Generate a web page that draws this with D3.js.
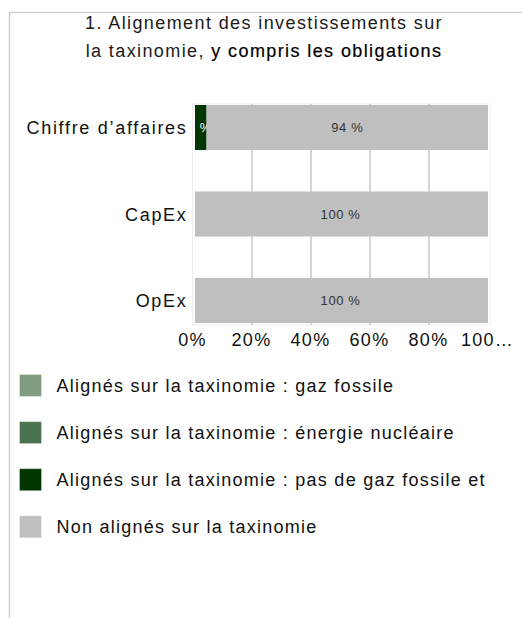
<!DOCTYPE html>
<html>
<head>
<meta charset="utf-8">
<script src="https://cdn.jsdelivr.net/npm/d3@7"></script>
<style>
  body { margin: 0; background: #fff; }
  svg { display: block; font-family: "Liberation Sans", Arial, sans-serif; }
</style>
</head>
<body>
<div id="chart"></div>
<script>
// data
var categories = ["Chiffre d\u2019affaires", "CapEx", "OpEx"];
var seriesNames = [
  "Alignés sur la taxinomie : gaz fossile",
  "Alignés sur la taxinomie : énergie nucléaire",
  "Alignés sur la taxinomie : pas de gaz fossile et",
  "Non alignés sur la taxinomie"
];
var seriesColors = ["#7f9c80", "#4b7350", "#023502", "#bfbfbf"];
var gasValues = [0, 0, 0];
var nuclearValues = [0, 0, 0];
var greenValues = [4.6, 0, 0];
var notAlignedValues = [95.4, 100, 100];
var greenLabels = ["5 %", "", ""];
var notAlignedLabels = ["94 %", "100 %", "100 %"];
var tickValues = [0, 20, 40, 60, 80, 100];
var tickLabels = ["0%", "20%", "40%", "60%", "80%", "100\u2026"];

var W = 522, H = 618;
var svg = d3.select("#chart").append("svg").attr("width", W).attr("height", H);

// outer frame (only top and left edges visible)
svg.append("path")
  .attr("d", "M9.5,618V12.5H522")
  .attr("fill", "none")
  .attr("stroke", "#cfcfcf")
  .attr("stroke-width", 1.5);

// title
var title = svg.append("text")
  .attr("text-anchor", "middle")
  .style("font-size", "18px")
  .style("letter-spacing", "1.4px")
  .attr("fill", "#1a1a1a");
title.append("tspan").attr("x", 264).attr("y", 29).text("1. Alignement des investissements sur");
var t2 = title.append("tspan").attr("x", 264).attr("y", 57);
t2.append("tspan").text("la taxinomie, ");
t2.append("tspan").attr("fill", "#000").attr("stroke", "#000").attr("stroke-width", 0.2)
  .text("y compris les obligations");

// scales
var x = d3.scaleLinear().domain([0, 100]).range([193, 488]);
var y = d3.scaleBand().domain(categories).range([105, 323]).paddingInner(0.48).paddingOuter(0);

// plot border
svg.append("rect")
  .attr("x", x(0) - 0.5).attr("y", 104)
  .attr("width", x(100) - x(0) + 2.5).attr("height", 221)
  .attr("fill", "none").attr("stroke", "#eeeeee");

// gridlines
svg.append("g").selectAll("line")
  .data(tickValues.slice(1, -1))
  .enter().append("line")
  .attr("x1", function(d) { return x(d); })
  .attr("x2", function(d) { return x(d); })
  .attr("y1", 104).attr("y2", 325)
  .attr("stroke", "#cccccc").attr("stroke-width", 1.6);

// stacked series
var rows = categories.map(function(c, i) {
  return { cat: c, gas: gasValues[i], nuclear: nuclearValues[i], green: greenValues[i], other: notAlignedValues[i] };
});
var keys = ["gas", "nuclear", "green", "other"];
var stacked = d3.stack().keys(keys)(rows);
var labelSets = { green: greenLabels, other: notAlignedLabels };

svg.append("clipPath").attr("id", "plotclip")
  .append("rect").attr("x", x(0) + 2).attr("y", 104).attr("width", x(100) - x(0)).attr("height", 221);

var layers = svg.append("g").attr("clip-path", "url(#plotclip)");

stacked.forEach(function(layer, k) {
  var g = layers.append("g");
  g.selectAll("rect")
    .data(layer)
    .enter().append("rect")
    .attr("x", function(d) { return x(d[0]); })
    .attr("width", function(d) { return x(d[1]) - x(d[0]); })
    .attr("y", function(d) { return y(d.data.cat); })
    .attr("height", y.bandwidth())
    .attr("fill", seriesColors[k]);
  var labs = labelSets[layer.key];
  if (labs) {
    g.selectAll("text")
      .data(layer)
      .enter().append("text")
      .attr("x", function(d) { return (x(d[0]) + x(d[1])) / 2; })
      .attr("y", function(d) { return y(d.data.cat) + y.bandwidth() / 2 + 4.5; })
      .attr("text-anchor", "middle")
      .style("font-size", "13px")
      .style("letter-spacing", "0.6px")
      .attr("fill", layer.key === "green" ? "#ffffff" : "#333333")
      .text(function(d, i) { return labs[i]; });
  }
});

// category axis labels
svg.append("g").selectAll("text")
  .data(categories)
  .enter().append("text")
  .attr("x", 187.5)
  .attr("y", function(d) { return y(d) + y.bandwidth() / 2 + 6.5; })
  .attr("text-anchor", "end")
  .style("font-size", "18px")
  .style("letter-spacing", "1.7px")
  .attr("fill", "#111")
  .text(function(d) { return d; });

// value axis labels
var xAxis = d3.axisBottom(x).tickValues(tickValues).tickSize(0).tickPadding(0)
  .tickFormat(function(d, i) { return tickLabels[i]; });
var ax = svg.append("g").attr("transform", "translate(-1,333)").call(xAxis);
ax.select(".domain").remove();
ax.selectAll("text").style("font-size", "18px").style("letter-spacing", "1.3px").attr("fill", "#111")
  .attr("font-family", "Liberation Sans, Arial, sans-serif").attr("dy", "0.72em");

// legend
var legend = svg.append("g").selectAll("g")
  .data(seriesNames)
  .enter().append("g")
  .attr("transform", function(d, i) { return "translate(19.5," + (374.5 + i * 47.1) + ")"; });
legend.append("rect")
  .attr("width", 22).attr("height", 22)
  .attr("fill", function(d, i) { return seriesColors[i]; })
  .attr("stroke", "#ffffff").attr("stroke-opacity", 0.35);
legend.append("text")
  .attr("x", 37).attr("y", 17.5)
  .style("font-size", "18px")
  .style("letter-spacing", "1.25px")
  .attr("fill", "#111")
  .text(function(d) { return d; });
</script>
</body>
</html>
